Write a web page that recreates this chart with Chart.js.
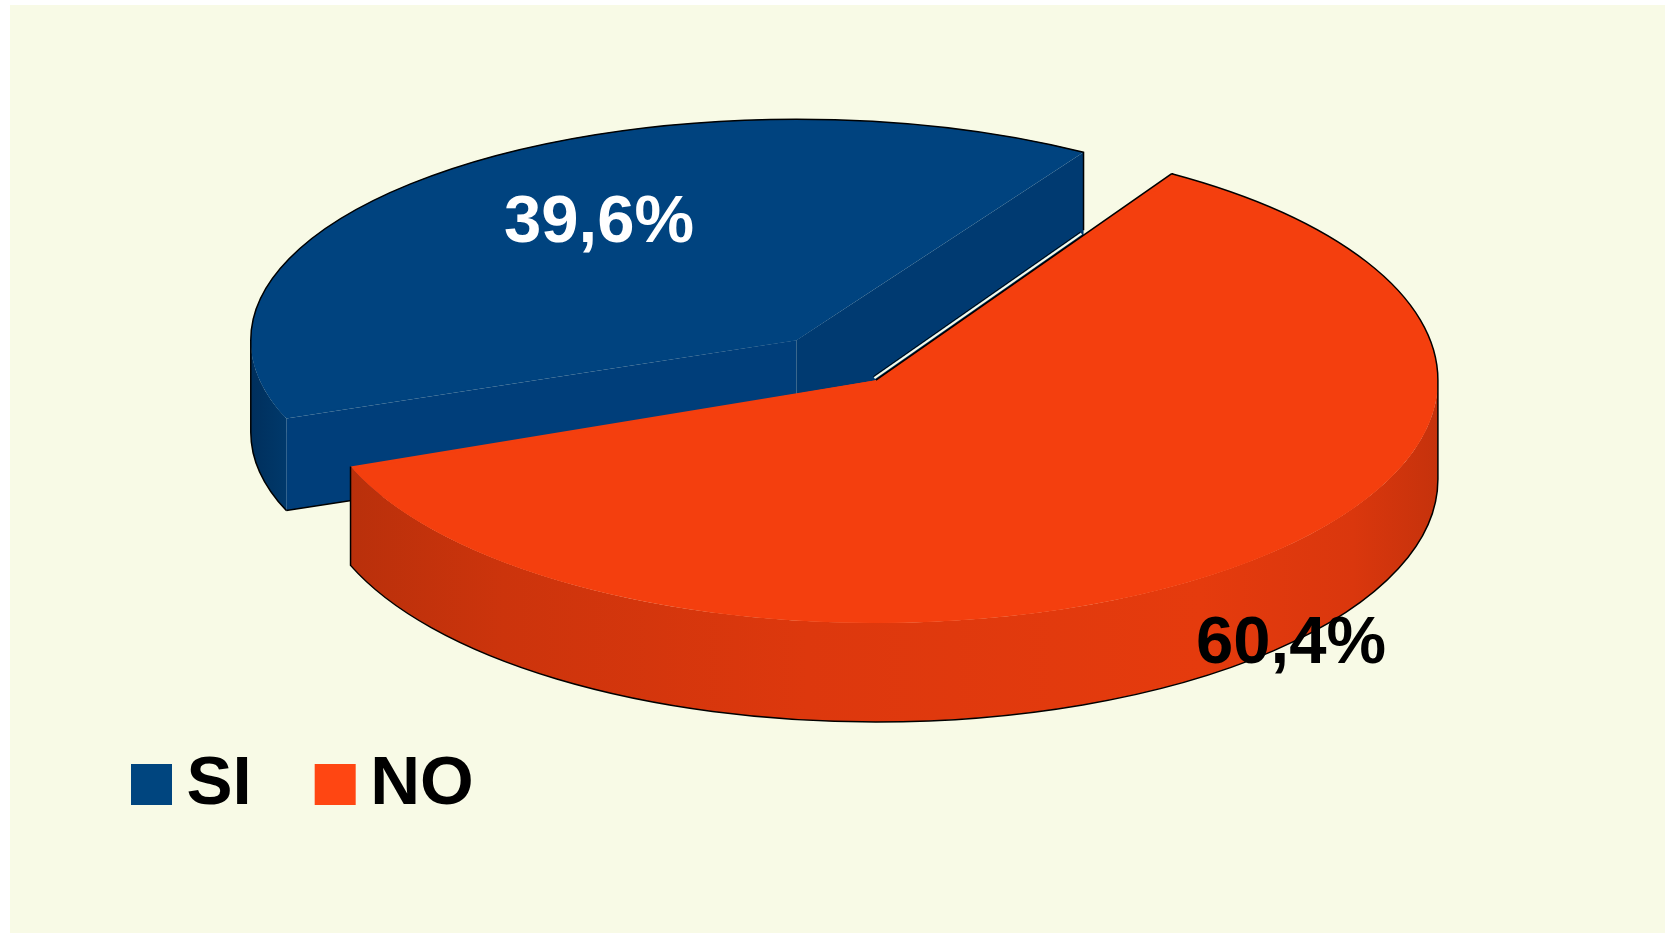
<!DOCTYPE html>
<html>
<head>
<meta charset="utf-8">
<style>
  html, body { margin: 0; background: #ffffff; }
  canvas { display: block; }
</style>
<script src="https://cdn.jsdelivr.net/npm/chart.js@4/dist/chart.umd.min.js"></script>
</head>
<body>
<canvas id="pie" width="1665" height="933"></canvas>
<script>
// Survey result: share of SI / NO answers, drawn as an exploded tilted pie.
const categories = ['SI', 'NO'];
const shares = [39.6, 60.4];
const sliceColors = ['#00437f', '#f43f0e'];
const legendColors = ['#00457f', '#ff4612'];
const labelColors = ['#ffffff', '#000000'];

// Tilted-disc look: the nearer slice is squashed a little less
const tilt = { cx: 846, cy: 364.5, radius: 515 };
const squash = [0.405, 0.432];
const sliceOffsets = [312, 188];
const depths = [92, 99];
const panel = { left: 10, top: 5, color: '#f8fae6' };
const labelAnchors = [{ radial: 0.64, turn: 5.1 }, { radial: 1.317, turn: 5.4 }];
const gapReach = 0.7;
const cornerTrim = 14;
const fontFamily = '"Liberation Sans", Arial, sans-serif';

// An offset arc element moves along its mid angle and grows its outer radius;
// this returns the resulting centre and radius so the rim lines up with it.
function sliceShape(arc) {
  const o = (arc.options.offset || 0) / 4;
  const c = arc.endAngle - arc.startAngle;
  const fix = 1 - Math.sin(Math.min(Math.PI, c));
  const mid = (arc.startAngle + arc.endAngle) / 2;
  return {
    x: arc.x + Math.cos(mid) * o,
    y: arc.y + Math.sin(mid) * o,
    R: arc.outerRadius + o * fix
  };
}

function applyTilt(ctx, arc, i) {
  ctx.translate(tilt.cx, tilt.cy);
  ctx.scale(1, squash[i]);
  ctx.translate(-arc.x, -arc.y);
}

// Builds a path in tilted space, then restores so fill and stroke work in page pixels.
function tiltedPath(ctx, arc, i, build) {
  ctx.save();
  applyTilt(ctx, arc, i);
  ctx.beginPath();
  build();
  ctx.restore();
}

function xGradient(ctx, x0, x1, stops) {
  const g = ctx.createLinearGradient(x0, 0, x1, 0);
  stops.forEach(([p, c]) => g.addColorStop(p, c));
  return g;
}

const tiltedPie = {
  id: 'tiltedPie',
  beforeDraw(chart) {
    const { ctx, width, height } = chart;
    ctx.save();
    ctx.fillStyle = panel.color;
    ctx.fillRect(panel.left, panel.top, width - panel.left, height - panel.top);
    ctx.restore();
  },
  beforeDatasetDraw(chart) {
    // Every arc paints through its own tilt
    chart.getDatasetMeta(0).data.forEach((arc, i) => {
      if (arc.tilted) return;
      const paint = arc.draw;
      arc.draw = function (ctx, area) {
        ctx.save();
        applyTilt(ctx, this, i);
        paint.call(this, ctx, area);
        ctx.restore();
      };
      arc.tilted = true;
    });
  },
  beforeDatasetsDraw(chart) {
    const { ctx } = chart;
    const [si, no] = chart.getDatasetMeta(0).data;

    // SI slice: two cut faces and the short rim on the left
    const a = sliceShape(si);
    const dSi = depths[0] / squash[0];
    const sx = a.x + a.R * Math.cos(si.startAngle), sy = a.y + a.R * Math.sin(si.startAngle);
    const ex = a.x + a.R * Math.cos(si.endAngle), ey = a.y + a.R * Math.sin(si.endAngle);
    tiltedPath(ctx, si, 0, () => {
      ctx.arc(a.x, a.y, a.R, si.startAngle, Math.PI);
      ctx.arc(a.x, a.y + dSi, a.R, Math.PI, si.startAngle, true);
      ctx.closePath();
    });
    ctx.fillStyle = xGradient(ctx, 250, 284, [[0, '#002f5c'], [1, '#00386a']]);
    ctx.fill();

    tiltedPath(ctx, si, 0, () => {
      ctx.moveTo(sx, sy);
      ctx.lineTo(a.x, a.y);
      ctx.lineTo(a.x, a.y + dSi);
      ctx.lineTo(sx, sy + dSi);
      ctx.closePath();
    });
    ctx.fillStyle = '#003e7a';
    ctx.fill();

    tiltedPath(ctx, si, 0, () => {
      ctx.moveTo(a.x, a.y);
      ctx.lineTo(ex, ey);
      ctx.lineTo(ex, ey + dSi);
      ctx.lineTo(a.x, a.y + dSi);
      ctx.closePath();
    });
    ctx.fillStyle = '#003a71';
    ctx.fill();

    // Dark lower edge of the SI front face, mostly hidden by the NO slice
    tiltedPath(ctx, si, 0, () => {
      ctx.moveTo(sx, sy + dSi);
      ctx.lineTo(a.x, a.y + dSi);
    });
    ctx.strokeStyle = '#000000';
    ctx.lineWidth = 1.5;
    ctx.stroke();

    // Solid bed under the SI top face, so no seam shows beside its cut faces
    tiltedPath(ctx, si, 0, () => {
      ctx.moveTo(a.x, a.y);
      ctx.arc(a.x, a.y, a.R, si.startAngle, si.endAngle);
      ctx.closePath();
    });
    ctx.fillStyle = sliceColors[0];
    ctx.fill();

    // NO slice: rim from the right extreme round to the left cut
    const b = sliceShape(no);
    const dNo = depths[1] / squash[1];
    const end = no.endAngle % (2 * Math.PI);
    tiltedPath(ctx, no, 1, () => {
      ctx.arc(b.x, b.y, b.R, 0, end);
      ctx.arc(b.x, b.y + dNo, b.R, end, 0, true);
      ctx.closePath();
    });
    ctx.fillStyle = xGradient(ctx, 350, 1440, [
      [0, '#b9300b'], [0.14, '#cc340c'], [0.42, '#dd380d'],
      [0.78, '#e53b0d'], [0.92, '#da370d'], [1, '#c5320c']
    ]);
    ctx.fill();

    tiltedPath(ctx, no, 1, () => {
      ctx.moveTo(b.x, b.y);
      ctx.arc(b.x, b.y, b.R, no.startAngle, no.endAngle);
      ctx.closePath();
    });
    ctx.fillStyle = sliceColors[1];
    ctx.fill();
  },
  afterDatasetsDraw(chart) {
    const { ctx } = chart;
    const [si, no] = chart.getDatasetMeta(0).data;
    ctx.save();
    ctx.strokeStyle = '#000000';
    ctx.lineWidth = 1.5;

    // Silhouette of the SI slice, the right corner stopping at the NO edge
    const a = sliceShape(si);
    const dSi = depths[0] / squash[0];
    tiltedPath(ctx, si, 0, () => {
      ctx.arc(a.x, a.y + dSi, a.R, si.startAngle, Math.PI);
      ctx.arc(a.x, a.y, a.R, Math.PI, si.endAngle);
      ctx.lineTo(
        a.x + a.R * Math.cos(si.endAngle),
        a.y + (depths[0] - cornerTrim) / squash[0] + a.R * Math.sin(si.endAngle)
      );
    });
    ctx.stroke();

    // Narrow sliver of panel colour between the SI cut face and the NO edge
    const b = sliceShape(no);
    const dNo = depths[1] / squash[1];
    const end = no.endAngle % (2 * Math.PI);
    const tipX = b.x + b.R * Math.cos(no.startAngle), tipY = b.y + b.R * Math.sin(no.startAngle);
    const reachX = b.x + (tipX - b.x) * gapReach, reachY = b.y + (tipY - b.y) * gapReach;
    const edge = (dx, dy) => {
      tiltedPath(ctx, no, 1, () => {
        ctx.moveTo(b.x + dx, b.y + dy / squash[1]);
        ctx.lineTo(reachX + dx, reachY + dy / squash[1]);
      });
    };
    edge(-1.5, -2);
    ctx.strokeStyle = panel.color;
    ctx.lineWidth = 2.2;
    ctx.stroke();
    edge(-2.6, -3.6);
    ctx.strokeStyle = '#000000';
    ctx.lineWidth = 0.9;
    ctx.stroke();

    // Silhouette of the NO slice
    ctx.lineWidth = 1.5;
    tiltedPath(ctx, no, 1, () => {
      ctx.moveTo(b.x, b.y);
      ctx.lineTo(tipX, tipY);
      ctx.arc(b.x, b.y, b.R, no.startAngle, 0);
      ctx.arc(b.x, b.y + dNo, b.R, 0, end);
      ctx.lineTo(b.x + b.R * Math.cos(end), b.y + b.R * Math.sin(end));
    });
    ctx.stroke();

    // Percentage labels
    ctx.font = 'bold 67px ' + fontFamily;
    ctx.textAlign = 'center';
    ctx.textBaseline = 'middle';
    [si, no].forEach((arc, i) => {
      const c = sliceShape(arc);
      const mid = (arc.startAngle + arc.endAngle) / 2 + labelAnchors[i].turn * Math.PI / 180;
      const r = c.R * labelAnchors[i].radial;
      const x = tilt.cx + (c.x - arc.x) + Math.cos(mid) * r;
      const y = tilt.cy + ((c.y - arc.y) + Math.sin(mid) * r) * squash[i];
      ctx.fillStyle = labelColors[i];
      ctx.fillText(shares[i].toFixed(1).replace('.', ',') + '%', x, y);
    });
    ctx.restore();
  }
};

new Chart(document.getElementById('pie'), {
  type: 'pie',
  data: {
    labels: categories,
    datasets: [{
      data: shares,
      backgroundColor: sliceColors,
      borderWidth: 0,
      offset: sliceOffsets,
      hoverOffset: 0,
      clip: false
    }]
  },
  options: {
    responsive: false,
    animation: false,
    events: [],
    rotation: 249.2,
    radius: tilt.radius,
    layout: { padding: { left: 68, bottom: 104 } },
    plugins: {
      tooltip: { enabled: false },
      legend: {
        position: 'bottom',
        align: 'start',
        labels: {
          usePointStyle: true,
          pointStyle: 'rect',
          boxWidth: 1,
          boxHeight: 41,
          padding: 83,
          color: '#000000',
          font: { family: fontFamily, size: 69, weight: 'bold' },
          generateLabels(chart) {
            return categories.map((text, i) => ({
              text,
              fillStyle: legendColors[i],
              strokeStyle: legendColors[i],
              lineWidth: 0,
              pointStyle: 'rect',
              index: i,
              hidden: false
            }));
          }
        }
      }
    }
  },
  plugins: [tiltedPie]
});
</script>
</body>
</html>
